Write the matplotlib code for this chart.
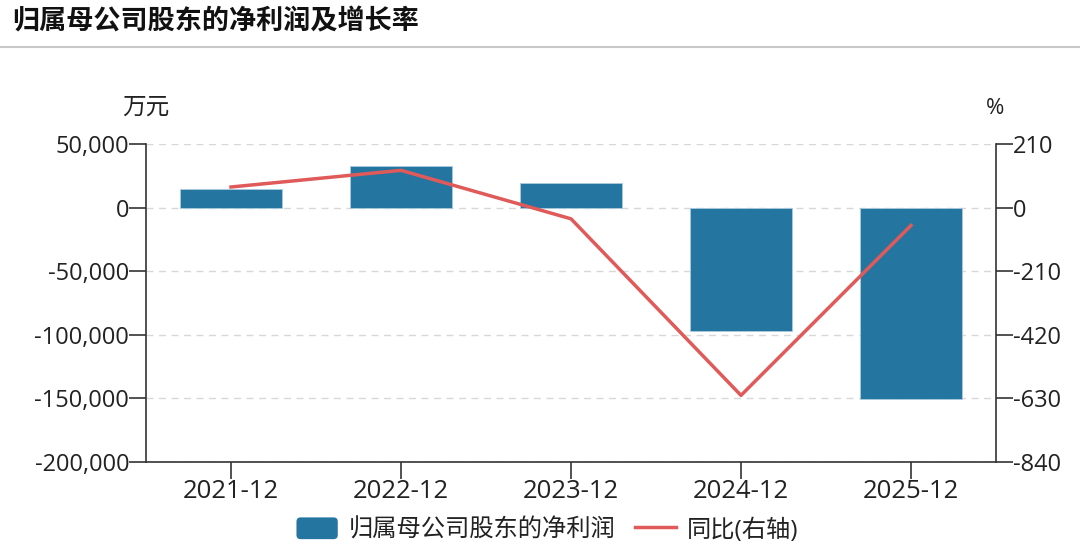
import matplotlib
matplotlib.use('Agg')
import matplotlib.pyplot as plt
from matplotlib.patches import FancyBboxPatch, Patch
from matplotlib.legend_handler import HandlerPatch
from matplotlib.ticker import FuncFormatter

plt.rcParams['font.family'] = ['Open Sans', 'Noto Sans CJK SC', 'DejaVu Sans']
plt.rcParams['axes.unicode_minus'] = False

periods = ['2021-12', '2022-12', '2023-12', '2024-12', '2025-12']
net_profit = [15000, 33000, 19100, -96700, -150200]  # 万元
yoy = [68, 123, -37, -620, -59]  # %

bar_color = '#2475a0'
line_color = '#e05a5a'
text_color = '#222222'


def rounded_box(legend, orig_handle, xdescent, ydescent, width, height, fontsize):
    return FancyBboxPatch((-xdescent, -ydescent), width, height,
                          boxstyle='round,pad=0,rounding_size=3')


fig = plt.figure(figsize=(10.8, 5.56), dpi=100)
ax = fig.add_axes([146 / 1080, 1 - 462 / 556, 850 / 1080, 318 / 556])
ax2 = ax.twinx()

x = range(len(periods))
ax.bar(x, net_profit, width=0.6, color=bar_color, edgecolor='#a9cbe0', linewidth=0.6, zorder=3)
line, = ax2.plot(x, yoy, color=line_color, linewidth=2.5, zorder=4)

ax.set_xlim(-0.5, len(periods) - 0.5)
ax.set_ylim(-200000, 50000)
ax.set_yticks(range(-200000, 50001, 50000))
ax.yaxis.set_major_formatter(FuncFormatter(lambda v, p: f'{int(v):,}'))
ax2.set_ylim(-840, 210)
ax2.set_yticks(range(-840, 211, 210))
ax2.yaxis.set_major_formatter(FuncFormatter(lambda v, p: f'{int(v)}'))

ax.set_xticks(list(x))
ax.set_xticklabels(periods)
ax.grid(axis='y', linestyle=(0, (5, 4)), color='#d8d8d8', linewidth=1, zorder=0)

for a in (ax, ax2):
    a.spines['top'].set_visible(False)
    a.tick_params(labelsize=17, colors='#333333', labelcolor=text_color, length=12, width=1.2, pad=0)
    for s in a.spines.values():
        s.set_color('#333333')
        s.set_linewidth(1.2)
ax.tick_params(axis='x', labelsize=18.5, pad=0)
ax2.spines['left'].set_visible(False)
ax2.spines['bottom'].set_visible(False)
ax.spines['right'].set_visible(False)

fig.text(169 / 1080, 1 - 108 / 556, '万元', ha='right', va='center', fontsize=17, color=text_color)
fig.text(995 / 1080, 1 - 108 / 556, '%', ha='center', va='center', fontsize=16, color=text_color)

fig.text(12 / 1080, 1 - 22 / 556, '归属母公司股东的净利润及增长率', ha='left', va='center',
         fontsize=19.5, fontweight='heavy', color='#111111')
fig.add_artist(plt.Line2D([0, 1], [1 - 47 / 556] * 2, color='#c8c8c8', linewidth=1.5))

bar_handle = Patch(facecolor=bar_color, edgecolor='none')
fig.legend([bar_handle, line], ['归属母公司股东的净利润', '同比(右轴)'], loc='center',
           bbox_to_anchor=(0.507, 1 - 530 / 556), ncol=2,
           frameon=False, fontsize=17.5, handlelength=1.7, handleheight=1.0, handletextpad=0.45,
           columnspacing=0.8, labelcolor=text_color,
           handler_map={Patch: HandlerPatch(patch_func=rounded_box)})

fig.savefig('out.png', dpi=100)
